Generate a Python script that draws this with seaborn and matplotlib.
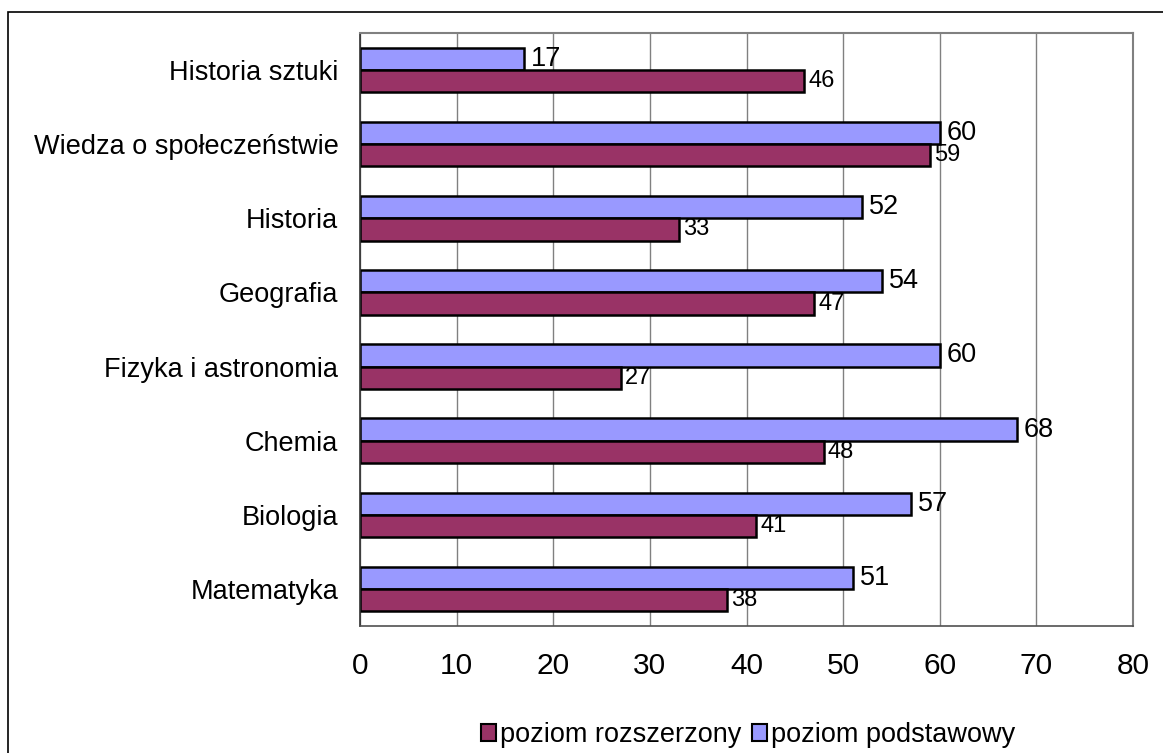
import matplotlib
matplotlib.use("Agg")
import matplotlib.pyplot as plt
import seaborn as sns
import pandas as pd
from matplotlib.patches import Rectangle, Patch

categories = ["Historia sztuki", "Wiedza o społeczeństwie", "Historia", "Geografia",
              "Fizyka i astronomia", "Chemia", "Biologia", "Matematyka"]
podstawowy = [17, 60, 52, 54, 60, 68, 57, 51]
rozszerzony = [46, 59, 33, 47, 27, 48, 41, 38]
series_names = ["poziom podstawowy", "poziom rozszerzony"]
xticks = [0, 10, 20, 30, 40, 50, 60, 70, 80]

sns.set_style("white")
plt.rcParams['font.family'] = ['Liberation Sans', 'DejaVu Sans']
plt.rcParams['text.color'] = 'black'
plt.rcParams['xtick.color'] = 'black'
plt.rcParams['ytick.color'] = 'black'

df = pd.DataFrame({
    "kategoria": categories * 2,
    "wartosc": podstawowy + rozszerzony,
    "poziom": [series_names[0]] * len(categories) + [series_names[1]] * len(categories),
})

c_pod = "#9999FF"
c_roz = "#993366"

fig = plt.figure(figsize=(11.63, 7.53), dpi=100)
ax = fig.add_axes([360 / 1163, 1 - 626 / 753, (1133 - 360) / 1163, (626 - 33) / 753])

sns.barplot(data=df, y="kategoria", x="wartosc", hue="poziom", order=categories,
            hue_order=series_names, palette=[c_pod, c_roz], orient="h", width=0.6,
            edgecolor="black", linewidth=1.8, ax=ax, legend=False, saturation=1)

ax.set_xlim(0, 80)
ax.set_ylim(len(categories) - 0.5, -0.5)
ax.set_xticks(xticks)
ax.set_xticklabels([str(t) for t in xticks], fontsize=21.5)
ax.tick_params(axis="x", direction="out", length=8, width=1, color="#404040", pad=11)
ax.set_xlabel("")
ax.set_ylabel("")

# category labels at centers, ticks at boundaries
ax.set_yticks([i + 0.5 for i in range(-1, len(categories))])
ax.set_yticklabels([])
ax.tick_params(axis="y", which="major", direction="out", length=8, width=1, color="#404040")
ax.set_yticks(list(range(len(categories))), minor=True)
ax.set_yticklabels(categories, minor=True, fontsize=19.5)
ax.tick_params(axis="y", which="minor", length=0, pad=15.5)

ax.grid(axis="x", color="#808080", linewidth=1)
ax.set_axisbelow(True)
for s in ["top", "right"]:
    ax.spines[s].set_color("#808080")
    ax.spines[s].set_linewidth(1.5)
ax.spines["left"].set_color("#303030")
ax.spines["bottom"].set_color("#505050")
ax.spines["left"].set_linewidth(1.2)
ax.spines["bottom"].set_linewidth(1.2)

ax.bar_label(ax.containers[0], fontsize=19.5, padding=5)
ax.bar_label(ax.containers[1], fontsize=17, padding=3)

handles = [Patch(facecolor=c_roz, edgecolor="black", linewidth=1.5),
           Patch(facecolor=c_pod, edgecolor="black", linewidth=1.5)]
fig.legend(handles, ["poziom rozszerzony", "poziom podstawowy"], loc="center",
           bbox_to_anchor=(0.643, 1 - 735 / 753), ncol=2, frameon=False, fontsize=19.5,
           handlelength=0.55, handleheight=0.55, handletextpad=0.15, columnspacing=0.4)

fig.patches.append(Rectangle((8 / 1163, -0.05), 1.1, 1 - 12 / 753 + 0.05,
                             transform=fig.transFigure, fill=False, edgecolor="black",
                             linewidth=1.2, zorder=0))

fig.savefig("out.png", dpi=100)
